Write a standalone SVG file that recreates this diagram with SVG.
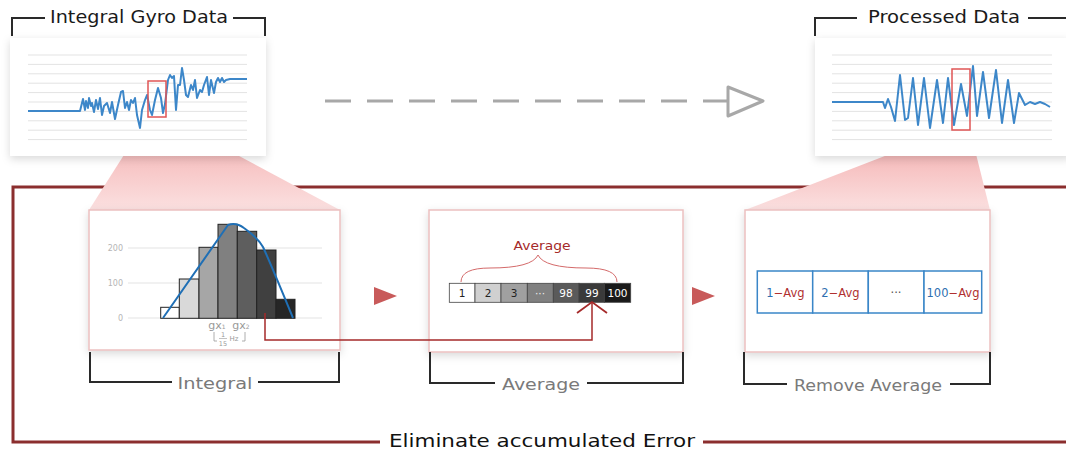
<svg xmlns="http://www.w3.org/2000/svg" width="1066" height="450" viewBox="0 0 1066 450">
<defs>
<style>
.title{font-family:"DejaVu Sans","Noto Sans",sans-serif;font-size:17px;fill:#1a1a1a}
.sub{font-family:"DejaVu Sans","Noto Sans",sans-serif;font-size:16px;fill:#7a7a7a}
.brk{fill:none;stroke:#2a2a2a;stroke-width:2}
.grid{stroke:#e3e3e3;stroke-width:1}
.sig{fill:none;stroke:#3d87c9;stroke-width:2;stroke-linejoin:round}
.zoom{fill:none;stroke:#e05555;stroke-width:1.5}
.card{fill:#fff}
.box{fill:#fff;stroke:#ecc0c0;stroke-width:1.5}
.bar{stroke:#222;stroke-width:1}
.ax{font-family:"DejaVu Sans","Noto Sans",sans-serif;font-size:8px;fill:#b5b5b5}
.cell{stroke:#444;stroke-width:0.8}
.ct{font-family:"DejaVu Sans","Noto Sans",sans-serif;font-size:10.5px;text-anchor:middle}
.rc{fill:#fff;stroke:#3a86c8;stroke-width:1.5}
.rt{font-family:"DejaVu Sans","Noto Sans",sans-serif;font-size:11.5px;text-anchor:middle}
</style>
<linearGradient id="pk" x1="0" y1="0" x2="0" y2="1">
<stop offset="0" stop-color="#f3a9a9"/>
<stop offset="1" stop-color="#fbe0e0"/>
</linearGradient>
<filter id="sh" x="-10%" y="-10%" width="120%" height="130%">
<feDropShadow dx="0" dy="3" stdDeviation="4" flood-color="#000" flood-opacity="0.15"/>
</filter>
</defs>
<rect width="1066" height="450" fill="#fff"/>

<!-- big frame -->
<g id="frame">
<path d="M1066,187 H13 V442 H380 M703,442 H1066" fill="none" stroke="#8b2e2e" stroke-width="3"/>
<text x="542" y="447" text-anchor="middle" textLength="306" lengthAdjust="spacingAndGlyphs" style="font-family:'DejaVu Sans','Noto Sans',sans-serif;font-size:17px;fill:#111">Eliminate accumulated Error</text>
</g>

<!-- projections -->
<g id="projections">
<polygon points="148,117 166,117 340,210 89,210" fill="url(#pk)"/>
<polygon points="952,130 970,130 990,210 745,210" fill="url(#pk)"/>
</g>

<!-- Integral Gyro Data -->
<g id="gyro">
<path class="brk" d="M12,36 V18 H45 M233,18 H265 V36"/>
<text class="title" x="139" y="23" text-anchor="middle" textLength="178" lengthAdjust="spacingAndGlyphs">Integral Gyro Data</text>
<rect class="card" x="10" y="38" width="256" height="118" filter="url(#sh)"/>
<g class="grid">
<line x1="28" y1="55" x2="247" y2="55"/><line x1="28" y1="64.4" x2="247" y2="64.4"/><line x1="28" y1="73.8" x2="247" y2="73.8"/><line x1="28" y1="83.2" x2="247" y2="83.2"/><line x1="28" y1="92.6" x2="247" y2="92.6"/><line x1="28" y1="102" x2="247" y2="102"/><line x1="28" y1="111.4" x2="247" y2="111.4"/><line x1="28" y1="120.8" x2="247" y2="120.8"/><line x1="28" y1="130.2" x2="247" y2="130.2"/><line x1="28" y1="139.6" x2="247" y2="139.6"/>
</g>
<polyline class="sig" points="28,111 80,111 81,107 83,99 85,110 86,101 88,108 89,98 91,106 92,103 94,112 96,100 98,109 100,98 102,115 104,106 107,103 110,113 112,102 115,119 118,105 121,92 123,91 125,108 127,102 129,110 131,100 133,103 135,98 137,115 140,128 142,110 145,100 147,95 150,110 152,115 155,100 158,88 161,98 163,113 165,104 168,80 170,75 172,78 174,76 176,110 178,85 180,85 182,68 184,80 186,95 188,97 191,85 193,90 195,80 197,98 200,90 202,92 204,85 207,77 209,95 211,80 214,93 216,82 218,78 220,82 222,78 224,82 226,80 230,79 247,79"/>
<rect class="zoom" x="148" y="81" width="18" height="36"/>
</g>

<!-- Processed Data -->
<g id="processed">
<path class="brk" d="M815,36 V18 H857 M1028,18 H1066"/>
<text class="title" x="944" y="23" text-anchor="middle" textLength="152" lengthAdjust="spacingAndGlyphs">Processed Data</text>
<rect class="card" x="815" y="38" width="256" height="118" filter="url(#sh)"/>
<g class="grid">
<line x1="832" y1="55" x2="1052" y2="55"/><line x1="832" y1="64.4" x2="1052" y2="64.4"/><line x1="832" y1="73.8" x2="1052" y2="73.8"/><line x1="832" y1="83.2" x2="1052" y2="83.2"/><line x1="832" y1="92.6" x2="1052" y2="92.6"/><line x1="832" y1="102" x2="1052" y2="102"/><line x1="832" y1="111.4" x2="1052" y2="111.4"/><line x1="832" y1="120.8" x2="1052" y2="120.8"/><line x1="832" y1="130.2" x2="1052" y2="130.2"/><line x1="832" y1="139.6" x2="1052" y2="139.6"/>
</g>
<polyline class="sig" points="832,102 883,102 885,108 888,99 891,107 895,121 900,75 905,120 908,118 913,78 918,125 924,78 930,128 937,80 943,123 948,78 954,125 961,84 967,116 973,66 977,116 983,72 989,118 996,70 1002,123 1008,80 1014,123 1019,93 1025,105 1030,102 1035,104 1040,102 1045,104 1050,107"/>
<rect class="zoom" x="952" y="69" width="18" height="61"/>
</g>

<!-- connectors -->
<g id="connectors">
<line x1="325" y1="101" x2="728" y2="101" stroke="#a8a8a8" stroke-width="3" stroke-dasharray="26,16"/>
<polygon points="728,87 763,101 728,116" fill="#fff" stroke="#a8a8a8" stroke-width="3" stroke-linejoin="round"/>
<polygon points="374,287 397,296 374,305" fill="#c85a5a"/>
<polygon points="692,287 715,296 692,305" fill="#c85a5a"/>
</g>

<!-- Integral -->
<g id="integral">
<rect class="box" x="89" y="210" width="251" height="140" filter="url(#sh)"/>
<g class="grid">
<line x1="128" y1="248" x2="322" y2="248"/><line x1="128" y1="283" x2="322" y2="283"/><line x1="128" y1="318" x2="322" y2="318"/>
</g>
<text class="ax" x="123" y="251" text-anchor="end">200</text>
<text class="ax" x="123" y="286" text-anchor="end">100</text>
<text class="ax" x="123" y="321" text-anchor="end">0</text>
<rect class="bar" x="160.7" y="307.3" width="18.6" height="11" fill="#fff"/>
<rect class="bar" x="179.3" y="279" width="19.7" height="39.3" fill="#d9d9d9"/>
<rect class="bar" x="199" y="247.3" width="19" height="71" fill="#a6a6a6"/>
<rect class="bar" x="218" y="224.3" width="19.3" height="94" fill="#808080"/>
<rect class="bar" x="237.3" y="231.3" width="19.4" height="87" fill="#5e5e5e"/>
<rect class="bar" x="256.7" y="250" width="19.3" height="68.3" fill="#404040"/>
<rect class="bar" x="276" y="299.3" width="19" height="19" fill="#262626"/>
<path d="M163,318 L228,225 Q236,222 244,228 Q258,238 263,247 Q270,262 293,318" fill="none" stroke="#1f6fb5" stroke-width="2"/>
<text class="ax" x="217" y="329" text-anchor="middle" style="font-size:11px;fill:#999">gx<tspan font-size="6">1</tspan></text>
<text class="ax" x="241" y="329" text-anchor="middle" style="font-size:11px;fill:#999">gx<tspan font-size="6">2</tspan></text>
<path d="M214,332 V341 H217 M242,341 H245 V332" fill="none" stroke="#999" stroke-width="0.8"/>
<text class="ax" x="223" y="337" text-anchor="middle" style="font-size:6.5px;fill:#999">1</text>
<line x1="219" y1="338.5" x2="227" y2="338.5" stroke="#999" stroke-width="0.6"/>
<text class="ax" x="223" y="346" text-anchor="middle" style="font-size:6.5px;fill:#999">15</text>
<text class="ax" x="234" y="341" text-anchor="middle" style="font-size:7px;fill:#999">Hz</text>
<path class="brk" d="M90,352 V382 H172 M258,382 H339 V352"/>
<text class="sub" x="215" y="389" text-anchor="middle" textLength="75" lengthAdjust="spacingAndGlyphs">Integral</text>
</g>

<!-- Average -->
<g id="average">
<rect class="box" x="429" y="210" width="254" height="142" filter="url(#sh)"/>
<text x="542" y="250" text-anchor="middle" textLength="57" lengthAdjust="spacingAndGlyphs" style="font-family:'DejaVu Sans','Noto Sans',sans-serif;font-size:13px;fill:#a52a2a">Average</text>
<path d="M461,282 Q461,268 490,268 Q532,268 538,255 Q544,268 586,268 Q617,268 617,282" fill="none" stroke="#d46a6a" stroke-width="1"/>
<rect class="cell" x="449.3" y="283.3" width="25.7" height="19" fill="#fff"/>
<rect class="cell" x="475" y="283.3" width="26" height="19" fill="#d0d0d0"/>
<rect class="cell" x="501" y="283.3" width="26.3" height="19" fill="#a0a0a0"/>
<rect class="cell" x="527.3" y="283.3" width="26" height="19" fill="#808080"/>
<rect class="cell" x="553.3" y="283.3" width="25.7" height="19" fill="#5a5a5a"/>
<rect class="cell" x="579" y="283.3" width="25.3" height="19" fill="#3a3a3a"/>
<rect class="cell" x="604.3" y="283.3" width="26.4" height="19" fill="#1a1a1a"/>
<text class="ct" x="462" y="297" fill="#222">1</text>
<text class="ct" x="488" y="297" fill="#222">2</text>
<text class="ct" x="514" y="297" fill="#222">3</text>
<text class="ct" x="540" y="297" fill="#eee">···</text>
<text class="ct" x="566" y="297" fill="#fff">98</text>
<text class="ct" x="592" y="297" fill="#fff">99</text>
<text class="ct" x="617.5" y="297" fill="#fff">100</text>
<path class="brk" d="M430,352 V383 H495 M587,383 H683 V352"/>
<text class="sub" x="541" y="390" text-anchor="middle" textLength="78" lengthAdjust="spacingAndGlyphs">Average</text>
</g>

<!-- red integral to average link -->
<g id="link">
<path d="M265,313 V340 H592 V303" fill="none" stroke="#a52a2a" stroke-width="1.5"/>
<path d="M577,313 L592,302 L607,313" fill="none" stroke="#a52a2a" stroke-width="1.8"/>
</g>

<!-- Remove Average -->
<g id="remove">
<rect class="box" x="745" y="210" width="245" height="142" filter="url(#sh)"/>
<rect class="rc" x="757.3" y="271" width="55.4" height="42"/>
<rect class="rc" x="812.7" y="271" width="55.6" height="42"/>
<rect class="rc" x="868.3" y="271" width="55.7" height="42"/>
<rect class="rc" x="924" y="271" width="57.7" height="42"/>
<text class="rt" x="785.5" y="296.5"><tspan fill="#2f6fb0">1</tspan><tspan fill="#b03030">−Avg</tspan></text>
<text class="rt" x="840.5" y="296.5"><tspan fill="#2f6fb0">2</tspan><tspan fill="#b03030">−Avg</tspan></text>
<text class="rt" x="896" y="296.5" fill="#555">···</text>
<text class="rt" x="953" y="296.5"><tspan fill="#2f6fb0">100</tspan><tspan fill="#b03030">−Avg</tspan></text>
<path class="brk" d="M744,352 V384 H787 M950,384 H990 V352"/>
<text class="sub" x="868" y="391" text-anchor="middle" textLength="148" lengthAdjust="spacingAndGlyphs">Remove Average</text>
</g>
</svg>
